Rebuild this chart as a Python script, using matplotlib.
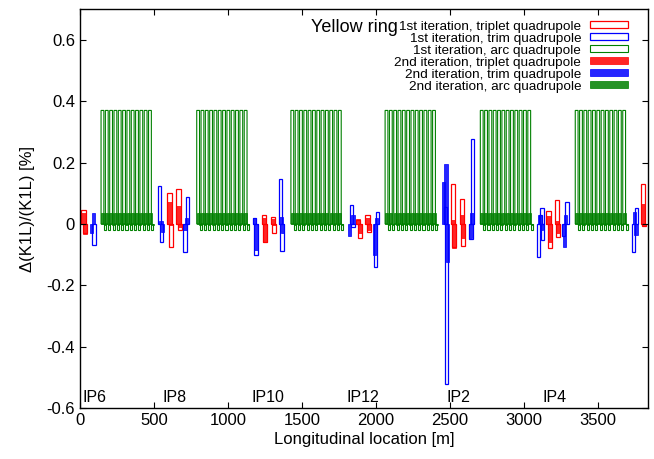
import numpy as np
import matplotlib
matplotlib.use("Agg")
import matplotlib.pyplot as plt

plt.rcParams["font.family"] = ["Liberation Sans", "DejaVu Sans"]

# ── Arc quadrupoles (regular lattice, values per family) ───────────────────────
ARC_START  = [142, 789, 1426, 2063, 2707, 3349]   # m, first quad of each arc
ARC_CELLS  = 12
CELL_LEN   = 29.2                                 # m
ARC_QF_1ST = 0.37
ARC_QD_1ST = -0.02
ARC_QF_2ND = 0.035
ARC_QD_2ND = -0.004

# ── Interaction-region quadrupoles ─────────────────────────────────────────────
trip_s = [24, 36, 605, 613, 666, 674, 1244, 1252, 1305, 1313,
          1883, 1891, 1944, 1952, 2520, 2528, 2585, 2593,
          3169, 3177, 3226, 3234, 3809, 3817]
trip_1st = [0.045, -0.028, 0.10, -0.075, 0.115, -0.02, 0.03, -0.058, 0.024, -0.03,
            0.013, -0.047, 0.03, -0.025, 0.13, -0.075, 0.082, -0.072,
            0.043, -0.077, 0.078, -0.041, 0.13, -0.007]
trip_2nd = [0.037, -0.033, 0.07, -0.005, 0.06, -0.01, 0.018, -0.058, 0.016, -0.005,
            0.016, -0.03, 0.02, -0.02, 0.013, -0.078, 0.03, -0.045,
            0.025, -0.06, 0.01, -0.03, 0.065, -0.005]

trim1_s = [95, 540, 552, 711, 727, 1178, 1190, 1357, 1367,
           1836, 1846, 1998, 2010, 2470, 2478, 2645, 2656,
           3100, 3112, 3124, 3130, 3272, 3294, 3745, 3765]
trim_1st = [-0.07, 0.125, -0.06, -0.09, 0.088, 0.02, -0.10, 0.147, -0.088,
            0.062, -0.01, -0.14, 0.04, 0.055, -0.52, -0.05, 0.277,
            -0.107, 0.03, 0.052, -0.052, -0.04, 0.073, -0.09, 0.053]

trim2_s = [78, 90, 548, 558, 710, 720, 1180, 1190, 1360, 1370,
           1823, 1847, 1994, 2006, 2459, 2476, 2483, 2640, 2652,
           3110, 3120, 3276, 3286, 3750, 3760]
trim_2nd = [-0.028, 0.035, 0.01, -0.025, -0.02, 0.02, 0.02, -0.085, 0.024, -0.03,
            -0.04, 0.03, -0.10, 0.02, 0.138, 0.196, -0.123, -0.045, 0.036,
            0.03, -0.02, -0.075, 0.03, 0.04, -0.035]

IP_NAMES = ["IP6", "IP8", "IP10", "IP12", "IP2", "IP4"]
IP_POS   = [20, 555, 1160, 1800, 2480, 3125]

# ── Build arc positions ────────────────────────────────────────────────────────
qf_s = np.concatenate([a + 10 + CELL_LEN * np.arange(ARC_CELLS) for a in ARC_START])
qd_s = qf_s + CELL_LEN / 2 + 2

RED, BLUE, GREEN = "#ff0000", "#0000ff", "#008000"

fig = plt.figure(figsize=(6.54, 4.59), dpi=100)
ax = fig.add_axes([0.1223, 0.111, 0.8682, 0.869])

lw = 0.9
h1 = ax.bar(trip_s, trip_1st, width=28, facecolor="none", edgecolor=RED, linewidth=lw,
            label="1st iteration, triplet quadrupole")
h2 = ax.bar(trim1_s, trim_1st, width=22, facecolor="none", edgecolor=BLUE, linewidth=lw,
            label="1st iteration, trim quadrupole")
h3 = ax.bar(qf_s, [ARC_QF_1ST] * len(qf_s), width=19, facecolor="none", edgecolor=GREEN,
            linewidth=0.8, label="1st iteration, arc quadrupole")
ax.bar(qd_s, [ARC_QD_1ST] * len(qd_s), width=14, facecolor="none", edgecolor=GREEN, linewidth=0.8)
h4 = ax.bar(trip_s, trip_2nd, width=28, color=RED, alpha=0.85, edgecolor=RED, linewidth=0.6,
            label="2nd iteration, triplet quadrupole")
h5 = ax.bar(trim2_s, trim_2nd, width=22, color=BLUE, alpha=0.85, edgecolor=BLUE, linewidth=0.6,
            label="2nd iteration, trim quadrupole")
h6 = ax.bar(qf_s, [ARC_QF_2ND] * len(qf_s), width=22, color=GREEN, alpha=0.85, edgecolor=GREEN,
            linewidth=0.6, label="2nd iteration, arc quadrupole")
ax.bar(qd_s, [ARC_QD_2ND] * len(qd_s), width=15, color=GREEN, alpha=0.85, edgecolor=GREEN, linewidth=0.6)

for p in h3.patches:
    p.set_snap(False)

for name, s in zip(IP_NAMES, IP_POS):
    ax.text(s, -0.565, name, ha="left", va="center", fontsize=11.5)

ax.text(1560, 0.64, "Yellow ring", ha="left", va="center", fontsize=13)

ax.set_xlim(0, 3840)
ax.set_ylim(-0.6, 0.7)
ax.set_xticks(np.arange(0, 3501, 500))
ax.set_yticks([-0.6, -0.4, -0.2, 0, 0.2, 0.4, 0.6])
ax.set_yticklabels(["-0.6", "-0.4", "-0.2", "0", "0.2", "0.4", "0.6"])
ax.tick_params(direction="in", top=True, right=True, length=4.5, width=0.8, labelsize=12)
for sp in ax.spines.values():
    sp.set_linewidth(1.0)
ax.set_xlabel("Longitudinal location [m]", fontsize=12, labelpad=3)
ax.set_ylabel("\u0394(K1L)/(K1L) [%]", fontsize=12, labelpad=8)

ax.legend(handles=[h1, h2, h3, h4, h5, h6], loc="upper right", frameon=False,
          markerfirst=False, fontsize=9.7, handlelength=2.8, handleheight=0.45,
          labelspacing=0.0, handletextpad=0.7, borderaxespad=0.0,
          bbox_to_anchor=(0.975, 0.985))

fig.savefig("out.png", dpi=100)
